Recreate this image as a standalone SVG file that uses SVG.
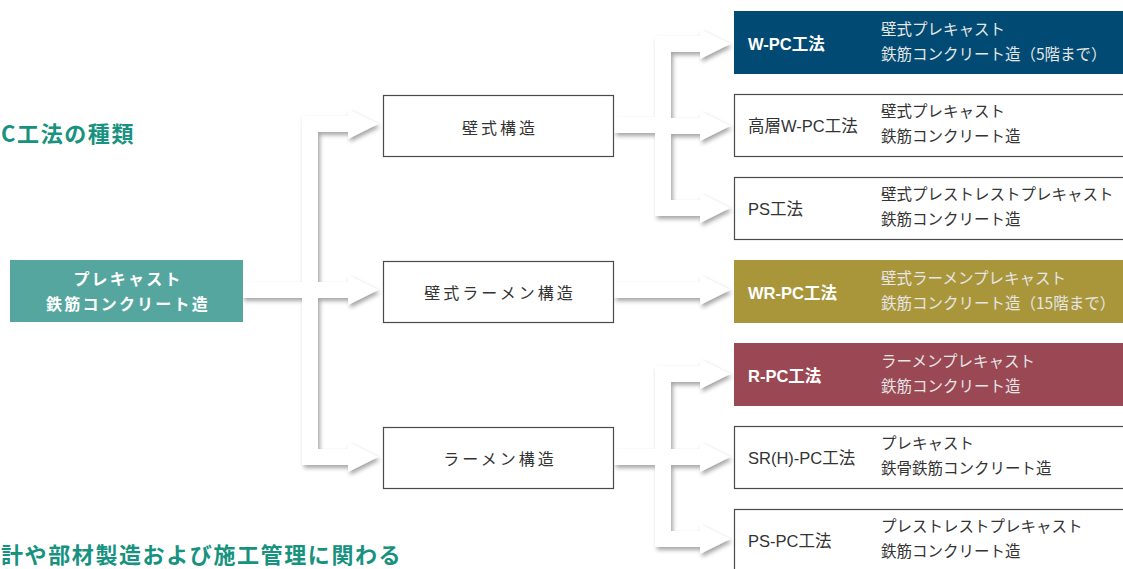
<svg xmlns="http://www.w3.org/2000/svg" width="1123" height="569" viewBox="0 0 1123 569">
<style>
text{font-family:"Noto Sans CJK JP","Noto Sans",sans-serif}
.title{font-size:22px;font-weight:bold;fill:#16927f;letter-spacing:1.6px}
.box{fill:#fff;stroke:#4a4a4a;stroke-width:1.2}
.mid{font-size:16px;fill:#333;letter-spacing:3px;text-anchor:middle}
.lab{font-family:"Liberation Sans","Noto Sans CJK JP",sans-serif;font-size:16.5px;fill:#333}
.labw{font-family:"Liberation Sans","Noto Sans CJK JP",sans-serif;font-size:16.5px;fill:#fff;font-weight:bold}
.desc{font-size:15.5px;fill:#333}
.descw{font-size:15.5px;fill:#e6e6e6}
.arr{fill:#fff}
</style>
<defs>
<filter id="sh" x="-20%" y="-20%" width="140%" height="140%">
<feDropShadow dx="2" dy="3" stdDeviation="2" flood-color="#000" flood-opacity="0.35"/>
</filter>
</defs>

<text class="title" x="1" y="142">C工法の種類</text>
<text class="title" x="1" y="563">計や部材製造および施工管理に関わる</text>

<g id="connectors">
<g filter="url(#sh)" class="arr">
<rect x="242" y="282" width="76" height="16"/>
<rect x="302" y="116" width="16" height="349"/>
<rect x="302" y="116" width="50" height="16"/>
<polygon points="348,109 378,124 348,139"/>
<rect x="302" y="282" width="50" height="16"/>
<polygon points="348,275 378,290 348,305"/>
<rect x="302" y="449" width="50" height="16"/>
<polygon points="348,442 378,457 348,472"/>
</g>
<g filter="url(#sh)" class="arr">
<rect x="614" y="117" width="57" height="16"/>
<rect x="655" y="36" width="16" height="180"/>
<rect x="655" y="36" width="49" height="16"/>
<polygon points="700,29 730,44 700,59"/>
<rect x="655" y="118" width="49" height="16"/>
<polygon points="700,111 730,126 700,141"/>
<rect x="655" y="200" width="49" height="16"/>
<polygon points="700,193 730,208 700,223"/>
</g>
<g filter="url(#sh)" class="arr">
<rect x="614" y="282" width="90" height="16"/>
<polygon points="700,275 730,290 700,305"/>
</g>
<g filter="url(#sh)" class="arr">
<rect x="614" y="449" width="57" height="16"/>
<rect x="655" y="366" width="16" height="181"/>
<rect x="655" y="366" width="49" height="16"/>
<polygon points="700,359 730,374 700,389"/>
<rect x="655" y="449" width="49" height="16"/>
<polygon points="700,442 730,457 700,472"/>
<rect x="655" y="531" width="49" height="16"/>
<polygon points="700,524 730,539 700,554"/>
</g>
</g>

<g id="root">
<rect x="10" y="260" width="233" height="62" fill="#55a69e"/>
<text x="128" y="285" font-size="16" font-weight="bold" fill="#fff" text-anchor="middle" letter-spacing="2.2">プレキャスト</text>
<text x="128" y="310" font-size="16" font-weight="bold" fill="#fff" text-anchor="middle" letter-spacing="2.2">鉄筋コンクリート造</text>
</g>

<g id="wall">
<rect class="box" x="383.5" y="95.5" width="230" height="61"/>
<text class="mid" x="500" y="134">壁式構造</text>
</g>
<g id="wallframe">
<rect class="box" x="383.5" y="261.5" width="230" height="61"/>
<text class="mid" x="500" y="299">壁式ラーメン構造</text>
</g>
<g id="frame">
<rect class="box" x="383.5" y="427.5" width="230" height="61"/>
<text class="mid" x="500" y="465">ラーメン構造</text>
</g>

<g id="wpc">
<rect x="734" y="11" width="400" height="63" fill="#004a73"/>
<text class="labw" x="748" y="50">W-PC工法</text>
<text class="descw" x="881" y="35">壁式プレキャスト</text>
<text class="descw" x="881" y="60">鉄筋コンクリート造（5階まで）</text>
</g>
<g id="hwpc">
<rect class="box" x="734.5" y="94.5" width="400" height="62"/>
<text class="lab" x="748" y="132">高層W-PC工法</text>
<text class="desc" x="881" y="117">壁式プレキャスト</text>
<text class="desc" x="881" y="142">鉄筋コンクリート造</text>
</g>
<g id="ps">
<rect class="box" x="734.5" y="177.5" width="400" height="62"/>
<text class="lab" x="748" y="215">PS工法</text>
<text class="desc" x="881" y="200">壁式プレストレストプレキャスト</text>
<text class="desc" x="881" y="225">鉄筋コンクリート造</text>
</g>
<g id="wrpc">
<rect x="734" y="260" width="400" height="63" fill="#a9963b"/>
<text class="labw" x="748" y="299">WR-PC工法</text>
<text class="descw" x="881" y="284">壁式ラーメンプレキャスト</text>
<text class="descw" x="881" y="309">鉄筋コンクリート造（15階まで）</text>
</g>
<g id="rpc">
<rect x="734" y="343" width="400" height="63" fill="#9a4853"/>
<text class="labw" x="748" y="382">R-PC工法</text>
<text class="descw" x="881" y="367">ラーメンプレキャスト</text>
<text class="descw" x="881" y="392">鉄筋コンクリート造</text>
</g>
<g id="srhpc">
<rect class="box" x="734.5" y="426.5" width="400" height="62"/>
<text class="lab" x="748" y="464">SR(H)-PC工法</text>
<text class="desc" x="881" y="449">プレキャスト</text>
<text class="desc" x="881" y="474">鉄骨鉄筋コンクリート造</text>
</g>
<g id="pspc">
<rect class="box" x="734.5" y="509.5" width="400" height="62"/>
<text class="lab" x="748" y="547">PS-PC工法</text>
<text class="desc" x="881" y="532">プレストレストプレキャスト</text>
<text class="desc" x="881" y="557">鉄筋コンクリート造</text>
</g>
</svg>
